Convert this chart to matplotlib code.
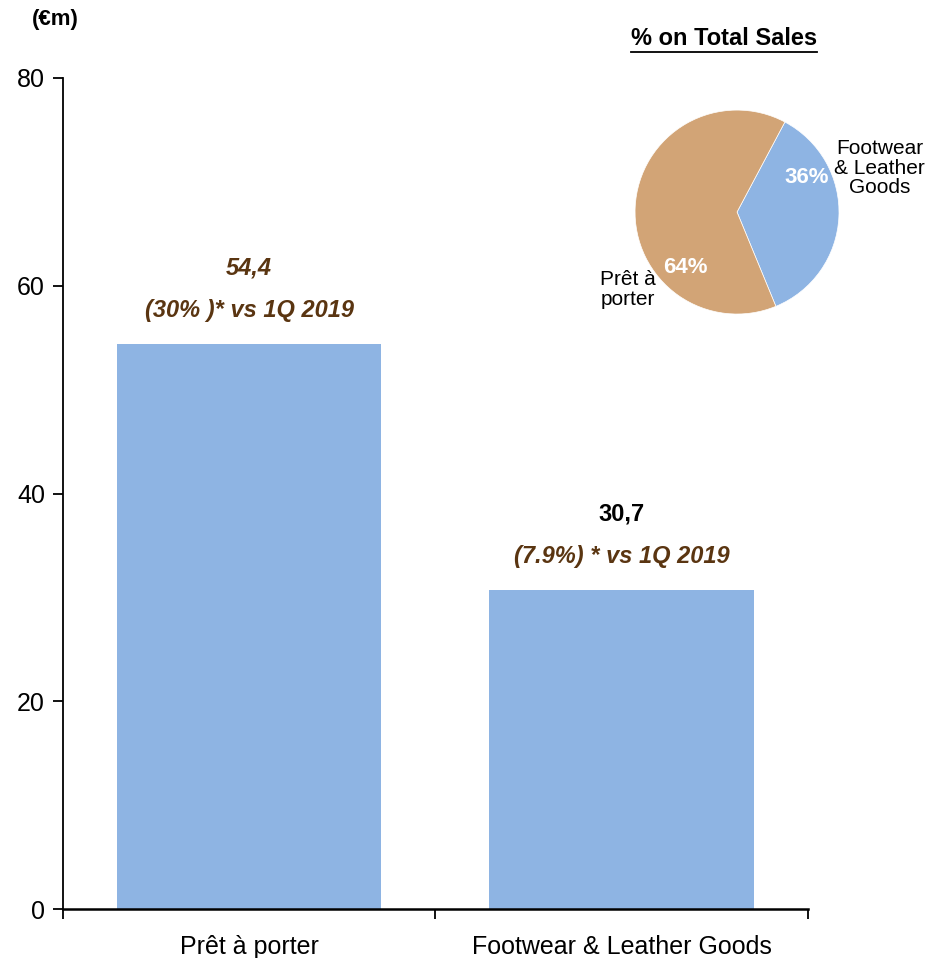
import matplotlib
matplotlib.use("Agg")
import matplotlib.pyplot as plt
from matplotlib.lines import Line2D

plt.rcParams['font.family'] = ['Liberation Sans', 'DejaVu Sans']

# sales by category (EUR m)
categories = ['Prêt à porter', 'Footwear & Leather Goods']
sales = [54.4, 30.7]
sales_labels = ['54,4', '30,7']
growth_labels = ['(30% )* vs 1Q 2019', '(7.9%) * vs 1Q 2019']
yticks = [0, 20, 40, 60, 80]

# share of total sales
pie_names = ['Footwear\n& Leather\nGoods', 'Prêt à\nporter']
pie_share = [36, 64]

bar_color = '#8EB4E3'
tan = '#D2A476'
brown = '#5A3511'

fig = plt.figure(figsize=(9.3, 9.58), dpi=100)
ax = fig.add_axes([0.0677, 0.0511, 0.801, 0.8675])

x = range(len(categories))
ax.bar(x, sales, width=0.71, color=bar_color, zorder=2)
ax.set_xlim(-0.5, 1.5)
ax.set_ylim(0, 80)
ax.set_yticks(yticks)
ax.set_yticklabels([str(t) for t in yticks], fontsize=18)
ax.set_xticks([-0.5, 0.5, 1.5])
ax.set_xticklabels([])
ax.set_xticks(list(x), minor=True)
ax.set_xticklabels(categories, minor=True, fontsize=18)
ax.tick_params(axis='x', which='minor', length=0, pad=19)
ax.tick_params(axis='x', which='major', length=7, width=1.3, direction='out')
ax.tick_params(axis='y', length=7, width=1.3, direction='out', pad=6)
for s in ['top', 'right']:
    ax.spines[s].set_visible(False)
ax.spines['left'].set_linewidth(1.3)
ax.spines['bottom'].set_linewidth(1.8)

# value and growth labels above bars
for i, v in enumerate(sales):
    ax.text(i, v + 7.3, sales_labels[i], ha='center', va='center', fontsize=17,
            fontweight='bold', style='italic' if i == 0 else 'normal',
            color=brown if i == 0 else 'black')
    ax.text(i, v + 3.2, growth_labels[i], ha='center', va='center', fontsize=17,
            fontweight='bold', style='italic', color=brown)

fig.text(0.059, 0.980, '(€m)', ha='center', va='center', fontsize=16, fontweight='bold')

# pie inset
pax = fig.add_axes([0.7925 - 0.1097, 0.7787 - 0.1065, 0.2194, 0.2129])
start = 62
pax.pie(pie_share, colors=[bar_color, tan], startangle=start, counterclock=False,
        radius=1, wedgeprops=dict(linewidth=0.5, edgecolor='white'))
pax.set_xlim(-1, 1)
pax.set_ylim(-1, 1)
pax.set_aspect('equal')
pax.text(0.68, 0.34, f'{pie_share[0]}%', ha='center', va='center', color='white',
         fontsize=16, fontweight='bold')
pax.text(-0.51, -0.54, f'{pie_share[1]}%', ha='center', va='center', color='white',
         fontsize=16, fontweight='bold')
pax.text(1.40, 0.43, pie_names[0], ha='center', va='center', fontsize=15,
         linespacing=1.05, clip_on=False)
pax.text(-1.07, -0.76, pie_names[1], ha='center', va='center', fontsize=15,
         linespacing=1.05, clip_on=False)

title = fig.text(0.7785, 0.960, '% on Total Sales', ha='center', va='center',
                 fontsize=17, fontweight='bold')
fig.canvas.draw()
bb = title.get_window_extent().transformed(fig.transFigure.inverted())
fig.add_artist(Line2D([bb.x0, bb.x1], [bb.y0 - 0.002, bb.y0 - 0.002],
                      transform=fig.transFigure, color='black', linewidth=1.3))

fig.savefig('out.png', dpi=100)
